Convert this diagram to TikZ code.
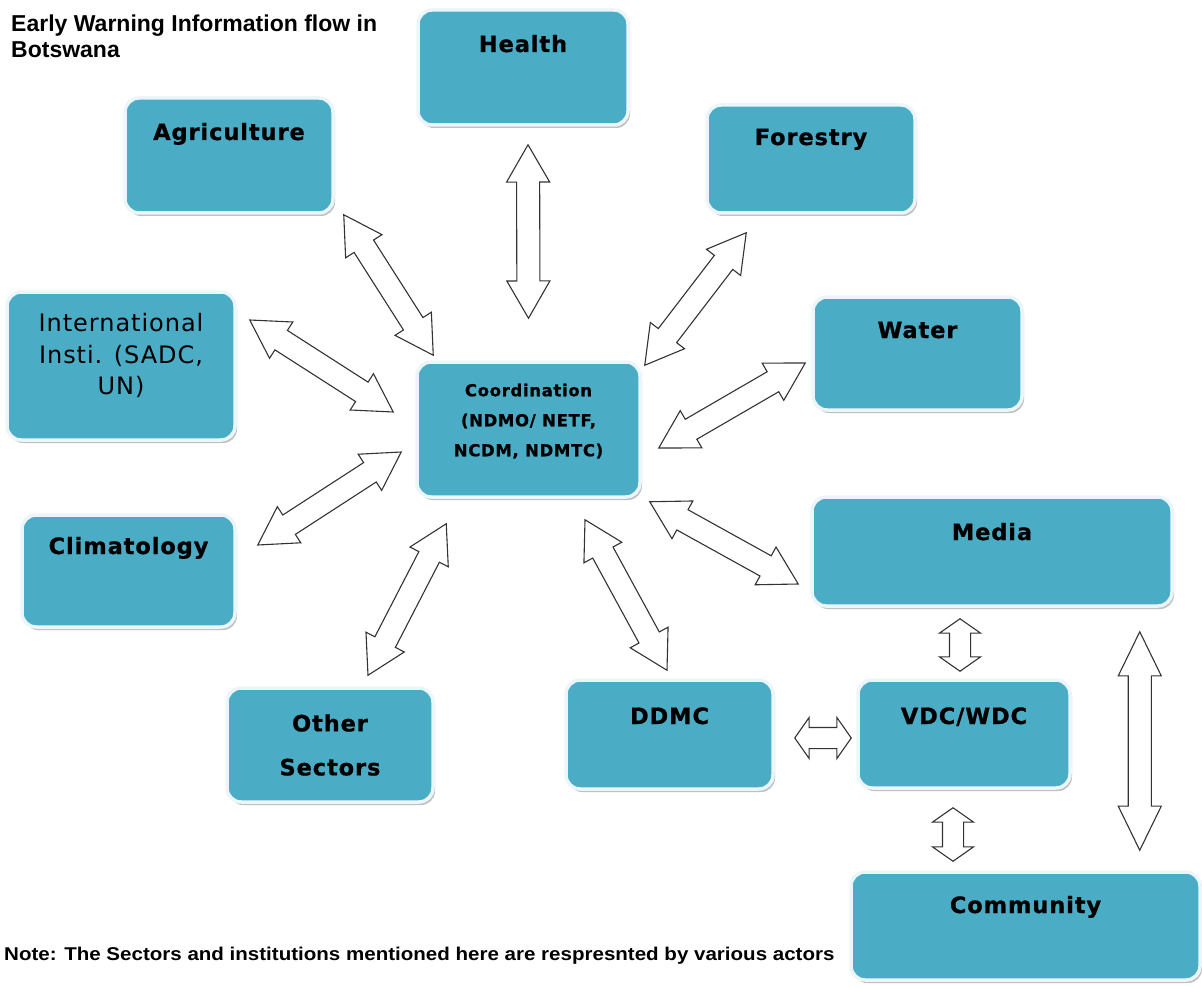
\documentclass[tikz,border=0pt]{standalone}
\usepackage{fontspec}
\setmainfont{Liberation Sans}
\newfontfamily\sectorfont[LetterSpace=4, BoldFeatures={FakeBold=0.8}]{DejaVu Sans}
\usetikzlibrary{shapes.arrows,shadows,calc}
\definecolor{boxblue}{RGB}{75,172,198}
\definecolor{rimwhite}{RGB}{236,246,250}

\newcommand{\flowlink}[4][]{%
  \path let \p1=#3, \p2=#4, \n1={atan2(\y2-\y1,\x2-\x1)}, \n2={veclen(\x2-\x1,\y2-\y1)} in
    node[twoway,#1,rotate=\n1,minimum height=\n2] (#2) at ($(\p1)!0.5!(\p2)$) {};}

\begin{document}
\begin{tikzpicture}[x=1pt, y=-1pt,
  sector/.style={rounded corners=14pt, fill=boxblue, draw=rimwhite, line width=3.5pt,
    drop shadow={shadow xshift=2pt, shadow yshift=-3pt, fill=black!45, opacity=0.55},
    inner sep=0pt, align=center, font=\sectorfont\fontsize{22.5}{27}\selectfont\bfseries},
  toptext/.style={text height=#1},
  twoway/.style={double arrow, draw=black!80, fill=white, line width=1.1pt,
    inner xsep=0pt, inner ysep=11pt, double arrow head extend=10pt, double arrow tip angle=60},
  shortway/.style={double arrow tip angle=110, inner ysep=10pt}]
  \useasboundingbox (0,0) rectangle (1202,987);

  \node[anchor=north west, inner sep=0pt, align=left, font=\fontsize{23}{26}\selectfont\bfseries]
    (title) at (11,15) {Early Warning Information flow in\\Botswana};

  \node[sector, toptext=42pt, text depth=73pt, minimum width=210pt] (health) at (523,67.5) {Health};
  \node[sector, toptext=42pt, text depth=73pt, minimum width=208pt] (agri) at (229,155.5) {Agriculture};
  \node[sector, toptext=40pt, text depth=68pt, minimum width=208pt] (forestry) at (811,159) {Forestry};
  \node[sector, toptext=41pt, text depth=72pt, minimum width=209pt] (water) at (917.5,353.5) {Water};
  \node[sector, minimum width=228pt, minimum height=148pt,
    font=\sectorfont\fontsize{24}{31.5}\selectfont] (intl) at (121,366) {International\\Insti. (SADC,\\UN)\\[-7.5pt]};
  \node[sector, minimum width=223pt, minimum height=135pt,
    font=\sectorfont\fontsize{16.5}{30}\selectfont\bfseries] (coord) at (528.5,429.5)
    {Coordination\\(NDMO/ NETF,\\NCDM, NDMTC)\\[-11pt]};
  \node[sector, toptext=39pt, text depth=73pt, minimum width=213pt] (clim) at (128.5,571) {Climatology};
  \node[sector, toptext=43pt, text depth=66pt, minimum width=360pt] (media) at (992,551.5) {Media};
  \node[sector, minimum width=206pt, minimum height=114pt,
    font=\sectorfont\fontsize{22.5}{44}\selectfont\bfseries] (other) at (330,745) {Other\\Sectors};
  \node[sector, toptext=44pt, text depth=65pt, minimum width=207pt] (ddmc) at (669.5,734.5) {DDMC};
  \node[sector, toptext=44pt, text depth=64pt, minimum width=212pt] (vdc) at (964,734) {VDC/WDC};
  \node[sector, toptext=41pt, text depth=67pt, minimum width=349pt] (community) at (1025.5,926) {Community};

  \flowlink{healthlink}{($(health.south)+(5,18)$)}{($(coord.north)+(0,-42)$)}
  \flowlink{agrilink}{($(agri.south east)+(9,0)$)}{($(coord.north west)+(18,-5)$)}
  \flowlink{forestlink}{($(forestry.south west)+(41,18)$)}{($(coord.north east)+(3,5)$)}
  \flowlink{intllink}{($(intl.east)+(13,-46)$)}{($(coord.west)+(-22,-17.5)$)}
  \flowlink{waterlink}{($(water.west)+(-6,9.5)$)}{($(coord.east)+(17,18.5)$)}
  \flowlink{climlink}{($(clim.east)+(21,-26)$)}{($(coord.west)+(-14,22.5)$)}
  \flowlink{otherlink}{($(other.north)+(38,-11)$)}{($(coord.south west)+(31,25)$)}
  \flowlink{ddmclink}{($(ddmc.north)+(-2.5,-8)$)}{($(coord.south)+(56.5,21)$)}
  \flowlink{medialink}{($(media.west)+(-12,32.5)$)}{($(coord.south east)+(8,3)$)}
  \flowlink[shortway]{ddmcvdc}{($(ddmc.east)+(20,3.5)$)}{($(vdc.west)+(-5,4)$)}
  \flowlink[shortway]{mediavdc}{($(media.south)+(-32,11)$)}{($(vdc.north)+(-4,-7)$)}
  \flowlink[shortway]{vdccomm}{($(vdc.south)+(-11,18)$)}{($(community.north)+(-72.5,-9)$)}
  \flowlink[double arrow tip angle=52]{mediacomm}{($(media.south east)+(-34,24)$)}{($(community.north east)+(-62,-20)$)}

  \node[anchor=base west, inner sep=0pt, font=\fontsize{18.5}{20}\selectfont\bfseries]
    (note) at (4,960) {\scalebox{1.11}[1]{Note: The Sectors and institutions mentioned here are respresnted by various actors}};
\end{tikzpicture}
\end{document}
